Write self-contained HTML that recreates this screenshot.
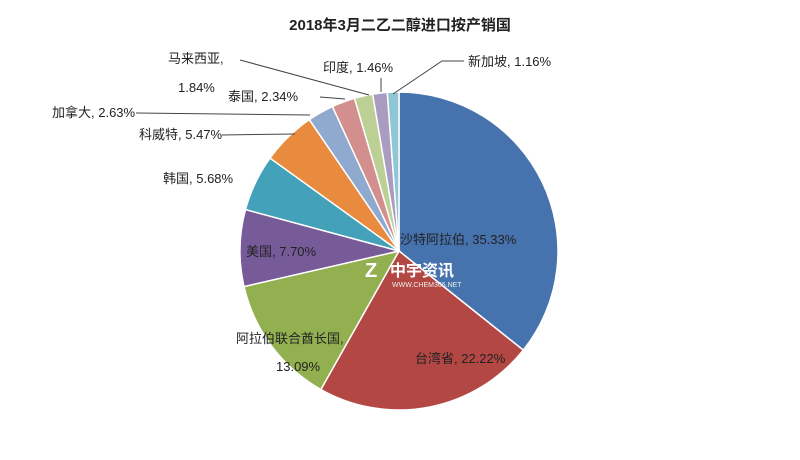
<!DOCTYPE html>
<html><head><meta charset="utf-8"><style>
html,body{margin:0;padding:0;background:#fff;}
svg text{font-family:"Liberation Sans","Noto Sans CJK SC",sans-serif;font-size:13px;fill:#222;}
</style></head><body>
<svg id="s" width="800" height="455" xmlns="http://www.w3.org/2000/svg">
<rect width="800" height="455" fill="#fff"/>
<text x="400" y="30" text-anchor="middle" style="font-weight:bold;font-size:15px">2018年3月二乙二醇进口按产销国</text>
<g id="pie"></g>
<g stroke="#444" stroke-width="1" fill="none">
<polyline points="464,61 442,61 393,94"/>
<line x1="381" y1="78" x2="381" y2="92"/>
<polyline points="240,60 369,95"/>
<polyline points="320,97 345,99"/>
<polyline points="136,113 310,115"/>
<polyline points="222,135 295,134"/>
</g>
<text x="468" y="66">新加坡, 1.16%</text>
<text x="323" y="72">印度, 1.46%</text>
<text x="168" y="63">马来西亚,</text>
<text x="178" y="92">1.84%</text>
<text x="228" y="101">泰国, 2.34%</text>
<text x="52" y="117">加拿大, 2.63%</text>
<text x="139" y="139">科威特, 5.47%</text>
<text x="163" y="183">韩国, 5.68%</text>
<text x="246" y="256">美国, 7.70%</text>
<text x="236" y="343">阿拉伯联合酋长国,</text>
<text x="276" y="371">13.09%</text>
<text x="400" y="244">沙特阿拉伯, 35.33%</text>
<text x="415" y="363">台湾省, 22.22%</text>
<text x="365" y="277" style="font-size:20px;font-weight:bold;fill:#fff">Z</text>
<text x="390" y="276" style="font-size:16px;font-weight:bold;fill:#fff">中宇资讯</text>
<text x="392" y="287" style="font-size:7px;fill:#eee">WWW.CHEM365.NET</text>
</svg>
<script>
var d=[[35.33,"#4673AD"],[22.22,"#B34744"],[13.09,"#92B050"],[7.70,"#775A98"],[5.68,"#43A1BA"],[5.47,"#E88B3E"],[2.63,"#8FA9CF"],[2.34,"#D38F8D"],[1.84,"#BCD096"],[1.46,"#AA9BC0"],[1.16,"#8EC6D6"]];
var tot=0;d.forEach(function(x){tot+=x[0];});
var cx=399,cy=251,r=159,a=0,g=document.getElementById("pie"),h="";
d.forEach(function(x){var b=a+x[0]/tot*2*Math.PI;
var x1=cx+r*Math.sin(a),y1=cy-r*Math.cos(a),x2=cx+r*Math.sin(b),y2=cy-r*Math.cos(b);
h+='<path d="M'+cx+','+cy+'L'+x1+','+y1+'A'+r+','+r+' 0 '+((b-a)>Math.PI?1:0)+' 1 '+x2+','+y2+'Z" fill="'+x[1]+'" stroke="#fff" stroke-width="1.5"/>';a=b;});
g.innerHTML=h;
</script>
</body></html>
